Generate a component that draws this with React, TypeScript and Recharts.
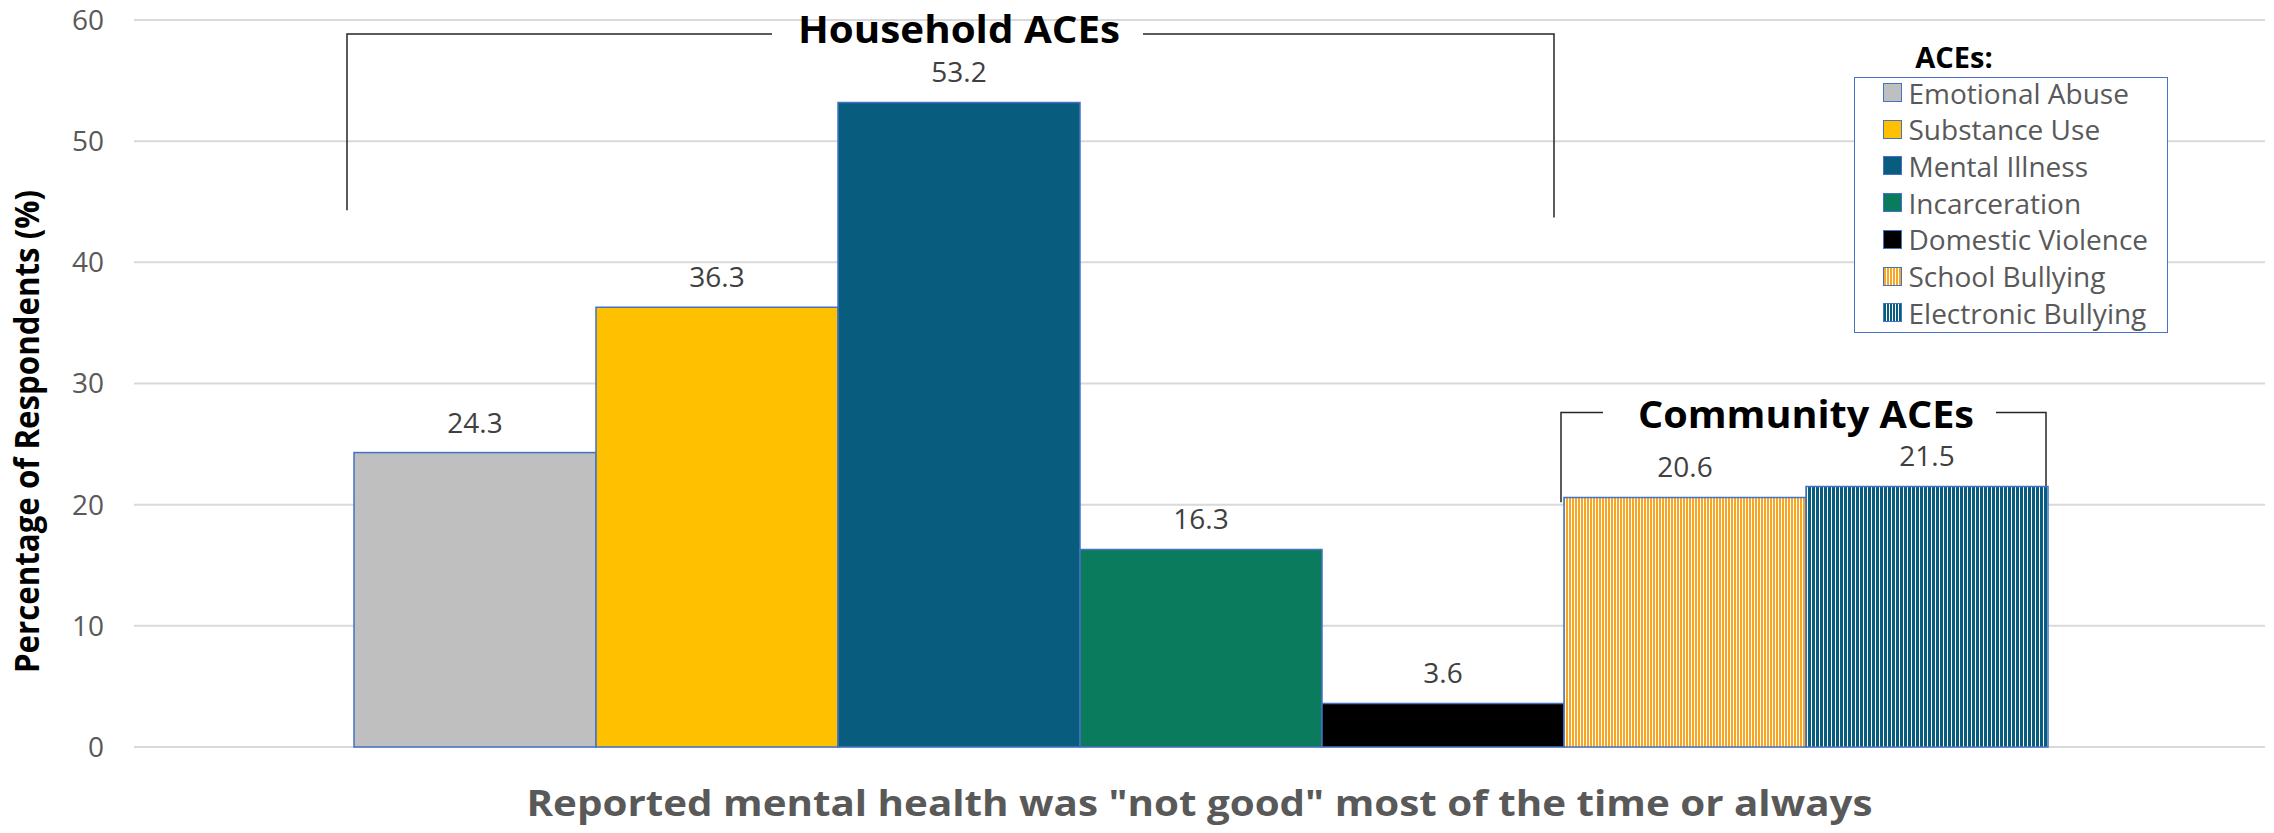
import React from 'react';
import { BarChart, Bar, XAxis, YAxis, CartesianGrid, LabelList, Legend, Label } from 'recharts';

const FONT = '"Open Sans", "Noto Sans", sans-serif';

const categories = ['Reported mental health was "not good" most of the time or always'];
const seriesKeys = ['emotional', 'substance', 'mental', 'incarceration', 'domestic', 'school', 'electronic'];
const seriesNames = ['Emotional Abuse', 'Substance Use', 'Mental Illness', 'Incarceration', 'Domestic Violence', 'School Bullying', 'Electronic Bullying'];
const seriesValues = [24.3, 36.3, 53.2, 16.3, 3.6, 20.6, 21.5];
const yTicks = [0, 10, 20, 30, 40, 50, 60];
const groupHeadings = ['Household ACEs', 'Community ACEs'];
const legendTitle = 'ACEs:';
const yAxisTitle = 'Percentage of Respondents (%)';

const seriesFills = ['#BFBFBF', '#FFC000', '#085C7E', '#0B7B5E', '#000000', 'url(#stripeOrange)', 'url(#stripeBlue)'];
const legendBackgrounds = [
  '#BFBFBF',
  '#FFC000',
  '#085C7E',
  '#0B7B5E',
  '#000000',
  'repeating-linear-gradient(90deg, #F6A623 0px, #F6A623 2px, #ffffff 2px, #ffffff 3px)',
  'repeating-linear-gradient(90deg, #085C7E 0px, #085C7E 2px, #ffffff 2px, #ffffff 3px)',
];

const data = categories.map((c) => {
  const row: Record<string, any> = { category: c };
  seriesKeys.forEach((k, i) => {
    row[k] = seriesValues[i];
  });
  return row;
});

const BRACKET = '#262626';

const renderFirstBar = (props: any) => {
  const { x, y, width, height, fill } = props;
  const base = y + height;
  const ppu = height / seriesValues[0];
  const yv = (v: number) => base - v * ppu;
  const w = width;
  // Household bracket (bars 0..4)
  const hLeft = x - 7;
  const hRight = x + 5 * w - 10;
  const hCenter = x + 2.5 * w;
  const hTop = yv(58.85);
  // Community bracket (bars 5..6)
  const cLeft = x + 5 * w - 3;
  const cRight = x + 7 * w - 2;
  const cCenter = x + 6 * w;
  const cTop = yv(27.6);
  return (
    <g>
      <rect x={x} y={y} width={width} height={height} fill={fill} stroke="#4472C4" strokeWidth={1.5} />
      <g stroke={BRACKET} strokeWidth={1.5} fill="none">
        <polyline points={`${hLeft},${yv(44.3)} ${hLeft},${hTop} ${hCenter - 187},${hTop}`} />
        <polyline points={`${hCenter + 184},${hTop} ${hRight},${hTop} ${hRight},${yv(43.7)}`} />
        <polyline points={`${cLeft},${yv(20.2)} ${cLeft},${cTop} ${cCenter - 203},${cTop}`} />
        <polyline points={`${cCenter + 190},${cTop} ${cRight},${cTop} ${cRight},${yv(20.2)}`} />
      </g>
      <text x={hCenter} y={yv(58.1)} textAnchor="middle" fontFamily={FONT} fontWeight={700} fontSize={38}
        fill="#000" textLength={322} lengthAdjust="spacingAndGlyphs">{groupHeadings[0]}</text>
      <text x={cCenter} y={yv(26.3)} textAnchor="middle" fontFamily={FONT} fontWeight={700} fontSize={38}
        fill="#000" textLength={336} lengthAdjust="spacingAndGlyphs">{groupHeadings[1]}</text>
    </g>
  );
};

const renderXTick = (props: any) => {
  const { x, y, payload } = props;
  return (
    <text x={x} y={y + 61} textAnchor="middle" fontFamily={FONT} fontWeight={700} fontSize={36}
      fill="#595959" textLength={1346} lengthAdjust="spacingAndGlyphs">{payload.value}</text>
  );
};

const renderYTitle = (props: any) => {
  const vb = props.viewBox || {};
  const cx = (vb.x || 0) + 39;
  const cy = (vb.y || 0) + (vb.height || 0) / 2 + 48;
  return (
    <text x={cx} y={cy} transform={`rotate(-90, ${cx}, ${cy})`} textAnchor="middle" fontFamily={FONT}
      fontWeight={700} fontSize={34} fill="#000" textLength={483} lengthAdjust="spacingAndGlyphs">{yAxisTitle}</text>
  );
};

const renderLegend = () => (
  <div style={{ position: 'relative', width: 340, height: 300, fontFamily: FONT }}>
    <div style={{ position: 'absolute', left: 0, width: 228, top: 1, textAlign: 'center', fontWeight: 700, fontSize: 29, lineHeight: '32px', color: '#000' }}>
      {legendTitle}
    </div>
    <div style={{ position: 'absolute', left: 14, top: 37, width: 314, height: 256, border: '1.5px solid #4472C4', boxSizing: 'border-box', background: '#fff' }}>
      {seriesNames.map((n, i) => (
        <div key={n} style={{ position: 'absolute', left: 27.5, top: -3.5 + i * 36.7, height: 36, display: 'flex', alignItems: 'center', whiteSpace: 'nowrap' }}>
          <span style={{ display: 'inline-block', width: 19, height: 19, boxSizing: 'border-box', border: '1.5px solid #4472C4', background: legendBackgrounds[i], marginRight: 7 }} />
          <span style={{ fontSize: 28, color: '#595959', lineHeight: '36px' }}>{n}</span>
        </div>
      ))}
    </div>
  </div>
);

export default function App() {
  return (
    <div style={{ position: 'absolute', left: 0, top: 0, width: 2274, height: 833, background: '#fff', fontFamily: FONT }}>
      <BarChart width={2274} height={833} data={data} margin={{ top: 20, right: 9, left: 0, bottom: 0 }} barGap={0} barCategoryGap={220}>
        <defs>
          <pattern id="stripeOrange" width="3" height="10" patternUnits="userSpaceOnUse">
            <rect width="3" height="10" fill="#ffffff" />
            <rect width="2" height="10" fill="#F6A623" />
          </pattern>
          <pattern id="stripeBlue" width="4" height="10" patternUnits="userSpaceOnUse">
            <rect width="4" height="10" fill="#ffffff" />
            <rect width="3" height="10" fill="#085C7E" />
          </pattern>
        </defs>
        <CartesianGrid vertical={false} stroke="#D9D9D9" strokeWidth={2} />
        <XAxis dataKey="category" axisLine={false} tickLine={false} height={86} tick={renderXTick} interval={0} />
        <YAxis domain={[0, 60]} ticks={yTicks} axisLine={false} tickLine={false} width={134} tickMargin={24}
          tick={{ fill: '#595959', fontSize: 28, fontFamily: FONT }}>
          <Label content={renderYTitle} />
        </YAxis>
        <Legend layout="vertical" align="center" verticalAlign="middle" content={renderLegend}
          wrapperStyle={{ left: 1840, top: 40, width: 340, height: 300 }} />
        {seriesKeys.map((k, i) => (
          <Bar key={k} dataKey={k} name={seriesNames[i]} fill={seriesFills[i]} stroke="#4472C4" strokeWidth={1.5}
            isAnimationActive={false} shape={i === 0 ? renderFirstBar : undefined}>
            <LabelList dataKey={k} position="top" offset={20} fill="#404040" fontSize={28} fontFamily={FONT} />
          </Bar>
        ))}
      </BarChart>
    </div>
  );
}
